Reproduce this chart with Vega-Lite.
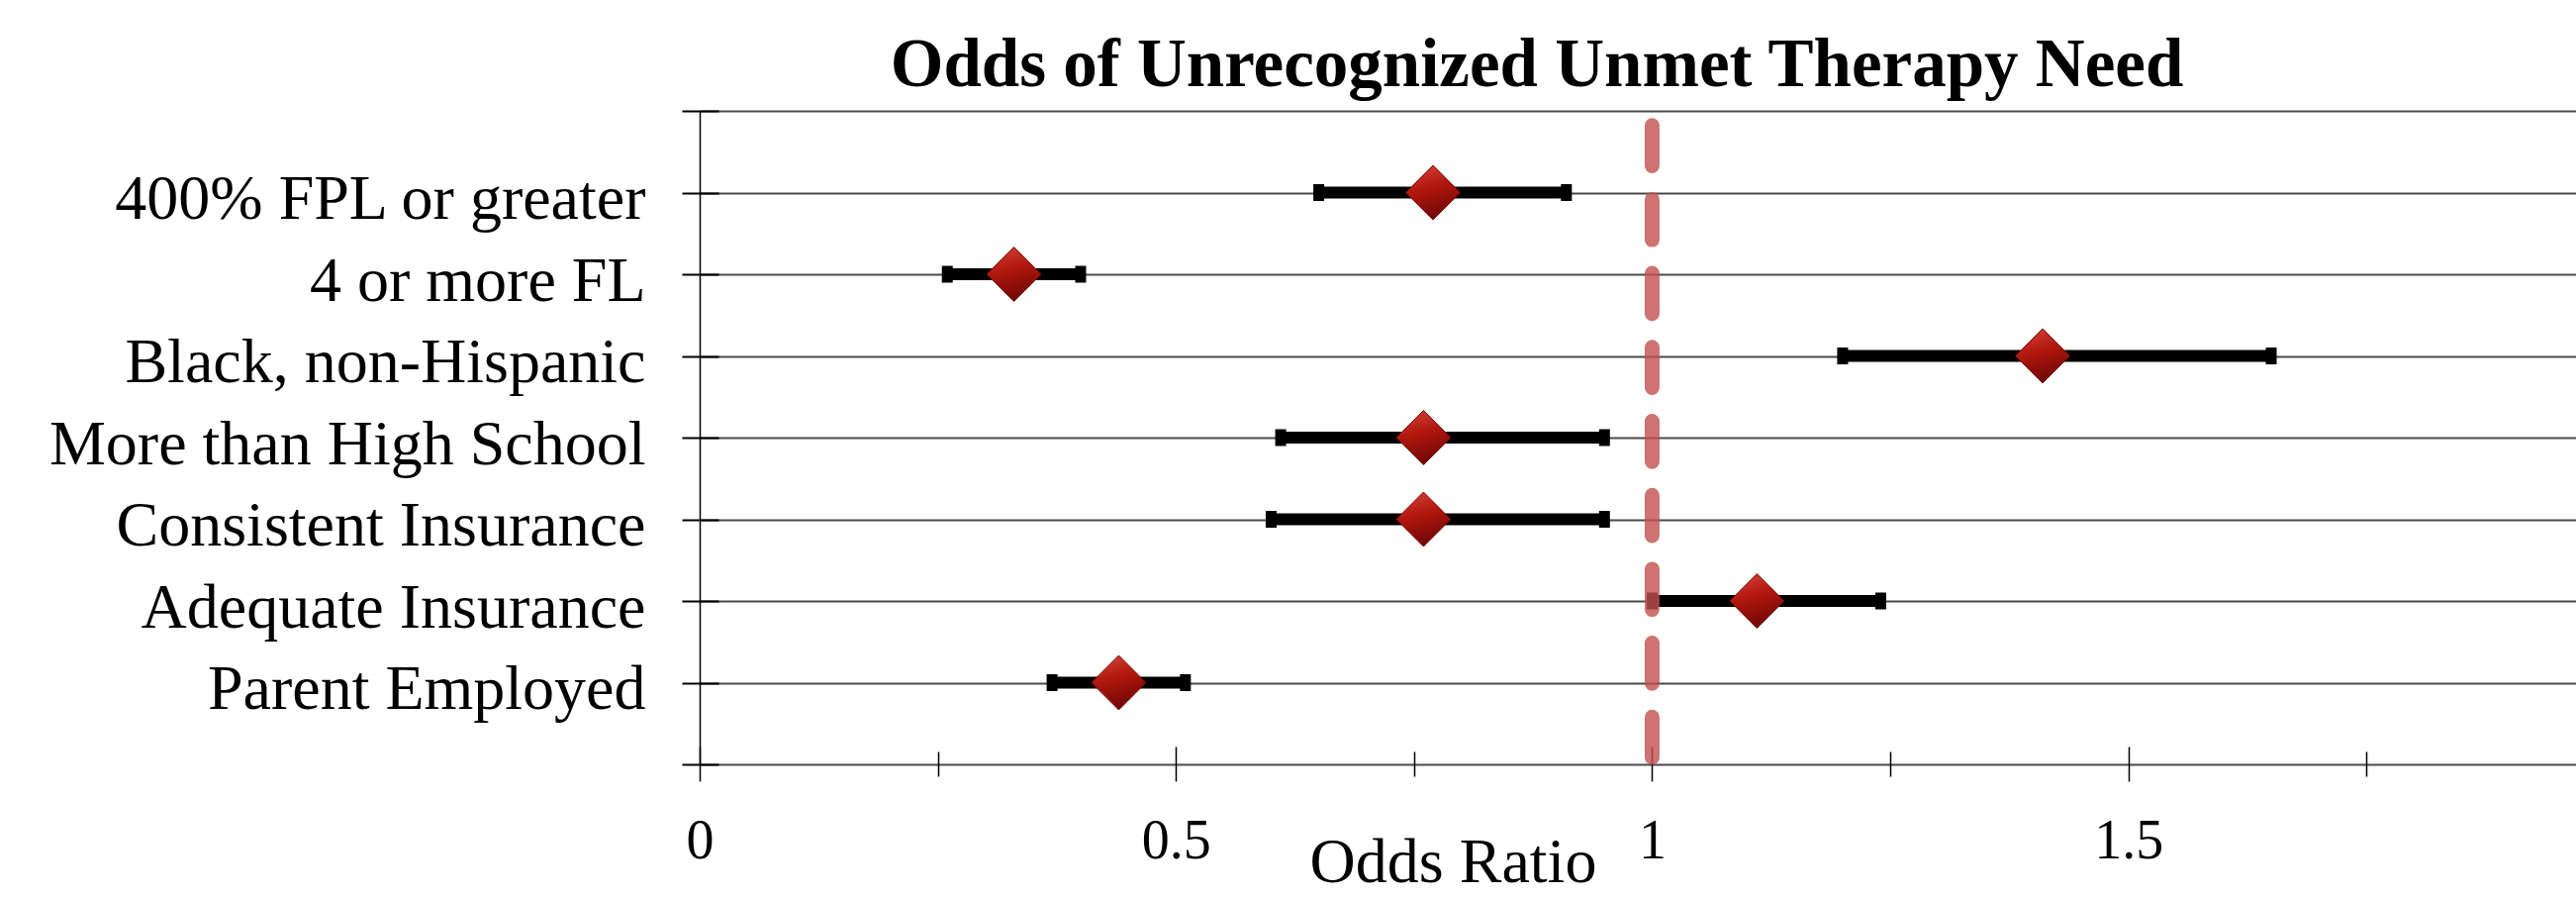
{
  "$schema": "https://vega.github.io/schema/vega-lite/v6.json",
  "width": 1896,
  "height": 660,
  "autosize": {"type": "none"},
  "padding": {"left": 707, "top": 112, "right": 0, "bottom": 134},
  "background": "white",
  "config": {"view": {"stroke": null}, "font": "Liberation Serif"},
  "title": {
    "text": "Odds of Unrecognized Unmet Therapy Need",
    "font": "Liberation Serif",
    "fontSize": 69,
    "fontWeight": "bold",
    "color": "black",
    "anchor": "middle",
    "dx": -102,
    "baseline": "alphabetic",
    "offset": -69
  },
  "data": {
    "values": [
      {"cat": "400% FPL or greater", "or": 0.77, "low": 0.65, "high": 0.91},
      {"cat": "4 or more FL", "or": 0.33, "low": 0.26, "high": 0.40},
      {"cat": "Black, non-Hispanic", "or": 1.41, "low": 1.20, "high": 1.65},
      {"cat": "More than High School", "or": 0.76, "low": 0.61, "high": 0.95},
      {"cat": "Consistent Insurance", "or": 0.76, "low": 0.60, "high": 0.95},
      {"cat": "Adequate Insurance", "or": 1.11, "low": 1.00, "high": 1.24},
      {"cat": "Parent Employed", "or": 0.44, "low": 0.37, "high": 0.51}
    ]
  },
  "resolve": {"axis": {"x": "independent", "y": "independent"}},
  "layer": [
    {
      "mark": {"type": "rule", "color": "black", "strokeWidth": 12},
      "encoding": {
        "x": {
          "field": "low", "type": "quantitative",
          "scale": {"domain": [0, 1.97], "nice": false},
          "axis": {
            "orient": "bottom", "values": [0, 0.5, 1, 1.5],
            "labelExpr": "'' + datum.value",
            "domain": false, "grid": false, "ticks": true, "tickSize": 17, "tickOpacity": 0,
            "labelPadding": 77, "labelBaseline": "alphabetic",
            "labelFont": "Liberation Serif", "labelFontSize": 56, "labelColor": "black",
            "labelFlush": false, "labelOverlap": false,
            "title": "Odds Ratio", "titleFont": "Liberation Serif", "titleFontSize": 64,
            "titleFontWeight": "normal", "titleColor": "black",
            "titleX": 761, "titleY": 118, "titleAlign": "center", "titleBaseline": "alphabetic"
          }
        },
        "x2": {"field": "high"},
        "y": {
          "field": "cat", "type": "nominal",
          "scale": {"type": "point", "padding": 0, "domain": ["_top", "400% FPL or greater", "4 or more FL", "Black, non-Hispanic", "More than High School", "Consistent Insurance", "Adequate Insurance", "Parent Employed", "_bottom"]},
          "axis": {
            "orient": "left", "title": null,
            "domain": true, "domainColor": "black", "domainWidth": 1.5,
            "grid": true, "gridColor": "#4a4a4a", "gridWidth": 2,
            "ticks": true, "tickSize": 18, "tickColor": "black", "tickWidth": 2,
            "labelFont": "Liberation Serif", "labelFontSize": 64, "labelColor": "black",
            "labelPadding": 37, "labelBaseline": "alphabetic", "labelOffset": 26,
            "labelExpr": "datum.value == '_top' || datum.value == '_bottom' ? '' : datum.label",
            "labelLimit": 0, "labelOverlap": false
          }
        }
      }
    },
    {
      "mark": {"type": "tick", "color": "black", "thickness": 11, "size": 17, "opacity": 1},
      "encoding": {
        "x": {
          "field": "low", "type": "quantitative",
          "scale": {"domain": [0, 1.97], "nice": false},
          "axis": {"orient": "bottom", "offset": -18, "values": [0, 0.5, 1, 1.5], "domain": false, "grid": false, "labels": false, "ticks": true, "tickSize": 35, "tickColor": "black", "tickWidth": 1.5, "title": null}
        },
        "y": {
          "field": "cat", "type": "nominal",
          "scale": {"type": "point", "padding": 0, "domain": ["_top", "400% FPL or greater", "4 or more FL", "Black, non-Hispanic", "More than High School", "Consistent Insurance", "Adequate Insurance", "Parent Employed", "_bottom"]},
          "axis": {"orient": "left", "offset": -19, "domain": false, "grid": false, "labels": false, "ticks": true, "tickSize": 19, "tickColor": "black", "tickWidth": 2, "title": null}
        }
      }
    },
    {
      "mark": {"type": "tick", "color": "black", "thickness": 11, "size": 17, "opacity": 1},
      "encoding": {
        "x": {
          "field": "high", "type": "quantitative",
          "scale": {"domain": [0, 1.97], "nice": false},
          "axis": {"orient": "bottom", "offset": -13, "values": [0.25, 0.75, 1.25, 1.75], "domain": false, "grid": false, "labels": false, "ticks": true, "tickSize": 25, "tickColor": "black", "tickWidth": 1.5, "title": null}
        },
        "y": {
          "field": "cat", "type": "nominal",
          "scale": {"type": "point", "padding": 0, "domain": ["_top", "400% FPL or greater", "4 or more FL", "Black, non-Hispanic", "More than High School", "Consistent Insurance", "Adequate Insurance", "Parent Employed", "_bottom"]},
          "axis": null
        }
      }
    },
    {
      "data": {"values": [{"ref": 1}]},
      "mark": {"type": "rule", "color": "#c0504d", "opacity": 0.8, "strokeWidth": 15, "strokeCap": "round", "strokeDash": [40.7, 34], "strokeDashOffset": 60},
      "encoding": {
        "x": {"field": "ref", "type": "quantitative", "scale": {"domain": [0, 1.97], "nice": false}, "axis": null}
      }
    },
    {
      "mark": {
        "type": "point", "shape": "diamond", "size": 3025, "filled": true, "opacity": 1,
        "fill": {"gradient": "linear", "x1": 0, "y1": 0, "x2": 0.3, "y2": 1, "stops": [{"offset": 0, "color": "#d8463c"}, {"offset": 0.5, "color": "#b0170d"}, {"offset": 1, "color": "#740806"}]},
        "stroke": "#7a0a06", "strokeWidth": 1
      },
      "encoding": {
        "x": {"field": "or", "type": "quantitative", "scale": {"domain": [0, 1.97], "nice": false}, "axis": null},
        "y": {
          "field": "cat", "type": "nominal",
          "scale": {"type": "point", "padding": 0, "domain": ["_top", "400% FPL or greater", "4 or more FL", "Black, non-Hispanic", "More than High School", "Consistent Insurance", "Adequate Insurance", "Parent Employed", "_bottom"]},
          "axis": null
        }
      }
    }
  ]
}
